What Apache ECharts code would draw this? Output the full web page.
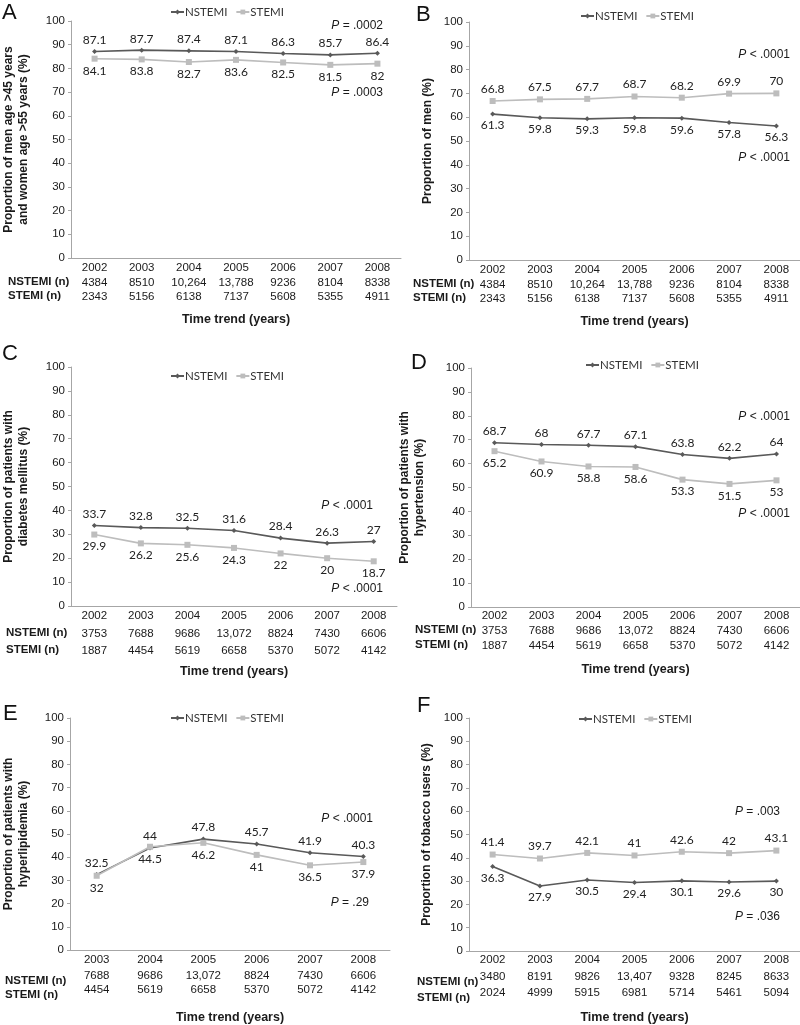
<!DOCTYPE html>
<html>
<head>
<meta charset="utf-8">
<script src="https://cdn.jsdelivr.net/npm/echarts@6/dist/echarts.min.js"></script>
<style>
  html, body { margin: 0; padding: 0; background: #fff; }
  #chart { width: 800px; height: 1025px; }
</style>
</head>
<body>
<div id="chart"></div>
<script>
// years per panel
const yearsFull = ["2002", "2003", "2004", "2005", "2006", "2007", "2008"];
const yearsE = ["2003", "2004", "2005", "2006", "2007", "2008"];

// A - age
const nstemiA = [87.1, 87.7, 87.4, 87.1, 86.3, 85.7, 86.4];
const stemiA = [84.1, 83.8, 82.7, 83.6, 82.5, 81.5, 82];
const nNstemiA = ["4384", "8510", "10,264", "13,788", "9236", "8104", "8338"];
const nStemiA = ["2343", "5156", "6138", "7137", "5608", "5355", "4911"];

// B - men
const nstemiB = [61.3, 59.8, 59.3, 59.8, 59.6, 57.8, 56.3];
const stemiB = [66.8, 67.5, 67.7, 68.7, 68.2, 69.9, 70];

// C - diabetes
const nstemiC = [33.7, 32.8, 32.5, 31.6, 28.4, 26.3, 27];
const stemiC = [29.9, 26.2, 25.6, 24.3, 22, 20, 18.7];
const nNstemiC = ["3753", "7688", "9686", "13,072", "8824", "7430", "6606"];
const nStemiC = ["1887", "4454", "5619", "6658", "5370", "5072", "4142"];

// D - hypertension
const nstemiD = [68.7, 68, 67.7, 67.1, 63.8, 62.2, 64];
const stemiD = [65.2, 60.9, 58.8, 58.6, 53.3, 51.5, 53];

// E - hyperlipidemia
const nstemiE = [32.5, 44, 47.8, 45.7, 41.9, 40.3];
const stemiE = [32, 44.5, 46.2, 41, 36.5, 37.9];
const nNstemiE = ["7688", "9686", "13,072", "8824", "7430", "6606"];
const nStemiE = ["4454", "5619", "6658", "5370", "5072", "4142"];

// F - tobacco
const nstemiF = [36.3, 27.9, 30.5, 29.4, 30.1, 29.6, 30];
const stemiF = [41.4, 39.7, 42.1, 41, 42.6, 42, 43.1];
const nNstemiF = ["3480", "8191", "9826", "13,407", "9328", "8245", "8633"];
const nStemiF = ["2024", "4999", "5915", "6981", "5714", "5461", "5094"];

const DARK = "#595959";
const LIGHT = "#bdbdbd";
const AXIS_FONT = "Liberation Sans, Arial, sans-serif";
const LABEL_FONT = "Lato, Open Sans, sans-serif";

const panels = [
  { letter: "A", years: yearsFull, nst: nstemiA, st: stemiA, nN: nNstemiA, nS: nStemiA,
    yName: "Proportion of men age >45 years\nand women age >55 years (%)", nameGap: 40,
    grid: { left: 58, top: 21, width: 343, height: 237 }, stAbove: false,
    legend: { left: 170, top: 6 }, lh: [13, 17, 12], xGap: 55,
    letterPos: [2, 2], rowLabelX: 8,
    p: [{ x: 383, y: 26, t: " = .0002" }, { x: 383, y: 93, t: " = .0003" }] },
  { letter: "B", years: yearsFull, nst: nstemiB, st: stemiB, nN: nNstemiA, nS: nStemiA,
    yName: "Proportion of men (%)", nameGap: 34,
    grid: { left: 469, top: 22, width: 338, height: 238 }, stAbove: true,
    legend: { left: 580, top: 10 }, lh: [13, 17, 12], xGap: 55,
    letterPos: [416, 4], rowLabelX: 413,
    p: [{ x: 790, y: 55, t: " < .0001" }, { x: 790, y: 158, t: " < .0001" }] },
  { letter: "C", years: yearsFull, nst: nstemiC, st: stemiC, nN: nNstemiC, nS: nStemiC,
    yName: "Proportion of patients with\ndiabetes mellitus (%)", nameGap: 40,
    grid: { left: 59, top: 367, width: 338, height: 239 }, stAbove: false,
    legend: { left: 170, top: 370 }, lh: [13, 23, 12], xGap: 59,
    letterPos: [2, 343], rowLabelX: 6,
    p: [{ x: 373, y: 506, t: " < .0001" }, { x: 383, y: 589, t: " < .0001" }] },
  { letter: "D", years: yearsFull, nst: nstemiD, st: stemiD, nN: nNstemiC, nS: nStemiC,
    yName: "Proportion of patients with\nhypertension (%)", nameGap: 44,
    grid: { left: 471, top: 368, width: 333, height: 239 }, stAbove: false,
    legend: { left: 585, top: 359 }, lh: [11, 19, 11], xGap: 56,
    letterPos: [411, 352], rowLabelX: 415,
    p: [{ x: 790, y: 417, t: " < .0001" }, { x: 790, y: 514, t: " < .0001" }] },
  { letter: "E", years: yearsE, nst: nstemiE, st: stemiE, nN: nNstemiE, nS: nStemiE,
    yName: "Proportion of patients with\nhyperlipidemia (%)", nameGap: 39,
    grid: { left: 59, top: 718, width: 331, height: 238 }, stAbove: false,
    legend: { left: 170, top: 712 }, lh: [14, 17, 12], xGap: 61,
    letterPos: [3, 703], rowLabelX: 5,
    p: [{ x: 373, y: 819, t: " < .0001" }, { x: 369, y: 903, t: " = .29" }] },
  { letter: "F", years: yearsFull, nst: nstemiF, st: stemiF, nN: nNstemiF, nS: nStemiF,
    yName: "Proportion of tobacco users (%)", nameGap: 35,
    grid: { left: 469, top: 718, width: 335, height: 239 }, stAbove: true,
    legend: { left: 578, top: 713 }, lh: [12, 21, 12], xGap: 60,
    letterPos: [417, 695], rowLabelX: 417,
    p: [{ x: 780, y: 812, t: " = .003" }, { x: 780, y: 917, t: " = .036" }] },
];

let grids = [], xAxes = [], yAxes = [], series = [], legends = [], graphics = [];

panels.forEach(function (pn, i) {
  grids.push(Object.assign({ containLabel: false }, pn.grid));

  const nN = pn.nN, nS = pn.nS, lh = pn.lh;
  xAxes.push({
    gridIndex: i,
    type: "category",
    data: pn.years,
    boundaryGap: true,
    axisLine: { lineStyle: { color: "#a6a6a6", width: 1 } },
    axisTick: { show: false },
    name: "Time trend (years)",
    nameLocation: "middle",
    nameGap: pn.xGap,
    nameTextStyle: { fontFamily: AXIS_FONT, fontWeight: "bold", fontSize: 12.5, color: "#1a1a1a" },
    axisLabel: {
      interval: 0,
      margin: 3,
      formatter: function (val, idx) {
        return "{y|" + val + "}\n{n|" + nN[idx] + "}\n{s|" + nS[idx] + "}";
      },
      rich: {
        y: { fontFamily: AXIS_FONT, fontSize: 11.5, color: "#1a1a1a", lineHeight: lh[0] },
        n: { fontFamily: AXIS_FONT, fontSize: 11.5, color: "#1a1a1a", lineHeight: lh[1] },
        s: { fontFamily: AXIS_FONT, fontSize: 11.5, color: "#1a1a1a", lineHeight: lh[2] },
      },
    },
  });

  yAxes.push({
    gridIndex: i,
    type: "value",
    min: 0,
    max: 100,
    interval: 10,
    splitLine: { show: false },
    axisLine: { show: true, lineStyle: { color: "#a6a6a6" } },
    axisTick: { show: true, length: 3, lineStyle: { color: "#a6a6a6" } },
    axisLabel: { fontFamily: AXIS_FONT, fontSize: 11.5, color: "#1a1a1a", margin: 6 },
    name: pn.yName,
    nameLocation: "middle",
    nameGap: pn.nameGap,
    nameTextStyle: { fontFamily: AXIS_FONT, fontWeight: "bold", fontSize: 12, color: "#1a1a1a", lineHeight: 15 },
  });

  const labelTop = { show: true, position: "top", distance: 3, fontFamily: LABEL_FONT, fontSize: 12, color: "#222" };
  const labelBottom = { show: true, position: "bottom", distance: 3, fontFamily: LABEL_FONT, fontSize: 12, color: "#222" };

  series.push({
    name: "NSTEMI",
    type: "line",
    xAxisIndex: i,
    yAxisIndex: i,
    data: pn.nst,
    symbol: "diamond",
    symbolSize: 5,
    itemStyle: { color: DARK },
    lineStyle: { color: DARK, width: 1.6 },
    label: pn.stAbove ? labelBottom : labelTop,
    animation: false,
  });
  series.push({
    name: "STEMI",
    type: "line",
    xAxisIndex: i,
    yAxisIndex: i,
    data: pn.st,
    symbol: "rect",
    symbolSize: 6,
    itemStyle: { color: LIGHT },
    lineStyle: { color: LIGHT, width: 1.6 },
    label: pn.stAbove ? labelTop : labelBottom,
    animation: false,
  });

  legends.push({
    left: pn.legend.left,
    top: pn.legend.top,
    padding: 0,
    data: ["NSTEMI", "STEMI"],
    itemWidth: 13,
    itemHeight: 6,
    itemGap: 8,
    textStyle: { fontFamily: LABEL_FONT, fontSize: 11.5, color: "#333", padding: [0, 0, 0, -4] },
  });

  // panel letter
  graphics.push({
    type: "text",
    left: pn.letterPos[0],
    top: pn.letterPos[1],
    style: { text: pn.letter, font: "22px " + AXIS_FONT, fill: "#111" },
  });

  // n row labels
  const baseY = pn.grid.top + pn.grid.height + 3 + lh[0];
  graphics.push({
    type: "text",
    left: pn.rowLabelX,
    top: baseY + lh[1] / 2 - 7,
    style: { text: "NSTEMI (n)", font: "bold 11.5px " + AXIS_FONT, fill: "#1a1a1a" },
  });
  graphics.push({
    type: "text",
    left: pn.rowLabelX,
    top: baseY + lh[1] + lh[2] / 2 - 7,
    style: { text: "STEMI (n)", font: "bold 11.5px " + AXIS_FONT, fill: "#1a1a1a" },
  });

  // P value annotations
  pn.p.forEach(function (pv) {
    graphics.push({
      type: "text",
      x: pv.x,
      y: pv.y,
      style: {
        text: "{i|P}" + pv.t,
        align: "right",
        verticalAlign: "middle",
        font: "12px " + AXIS_FONT,
        fill: "#1a1a1a",
        rich: {
          i: { fontStyle: "italic", fontFamily: AXIS_FONT, fontSize: 12, fill: "#1a1a1a" },
        },
      },
    });
  });
});

const myChart = echarts.init(document.getElementById("chart"), null, { renderer: "canvas" });
myChart.setOption({
  backgroundColor: "#fff",
  animation: false,
  grid: grids,
  xAxis: xAxes,
  yAxis: yAxes,
  legend: legends,
  series: series,
  graphic: graphics,
});
</script>
</body>
</html>
